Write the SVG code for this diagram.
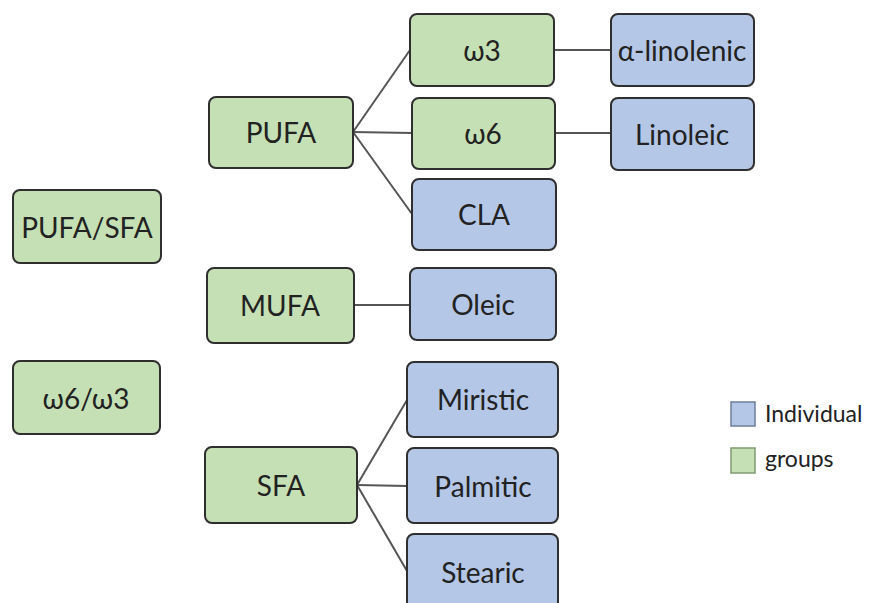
<svg xmlns="http://www.w3.org/2000/svg" width="876" height="603" viewBox="0 0 876 603">
<style>
.g{fill:#c5e0b4;stroke:#2f2f2f;stroke-width:2}
.b{fill:#b4c7e7;stroke:#2f2f2f;stroke-width:2}
.t{font-family:Lato,"Open Sans",sans-serif;font-size:28px;fill:#222;text-anchor:middle;dominant-baseline:central}
.l{font-family:Lato,"Open Sans",sans-serif;font-size:23px;fill:#222}
.c line{stroke:#555;stroke-width:2}
</style>
<rect width="876" height="603" fill="#fff"/>
<g class="c" id="connectors">
<line x1="353" y1="132" x2="410" y2="50"/>
<line x1="353" y1="132" x2="412" y2="133"/>
<line x1="353" y1="132" x2="412" y2="214"/>
<line x1="554" y1="50" x2="611" y2="50"/>
<line x1="555" y1="133" x2="611" y2="133"/>
<line x1="354" y1="305" x2="410" y2="305"/>
<line x1="357" y1="485" x2="407" y2="400"/>
<line x1="357" y1="485" x2="407" y2="486"/>
<line x1="357" y1="485" x2="407" y2="571"/>
</g>
<g id="pufa"><rect class="g" x="209" y="97" width="144" height="71" rx="7"/><text class="t" x="281" y="132">PUFA</text></g>
<g id="w3"><rect class="g" x="410" y="14" width="144" height="72" rx="7"/><text class="t" x="482" y="50">ω3</text></g>
<g id="w6"><rect class="g" x="412" y="98" width="143" height="71" rx="7"/><text class="t" x="483" y="133">ω6</text></g>
<g id="cla"><rect class="b" x="412" y="179" width="144" height="71" rx="7"/><text class="t" x="484" y="214">CLA</text></g>
<g id="alinolenic"><rect class="b" x="611" y="14" width="143" height="72" rx="7"/><text class="t" x="682" y="50">α-linolenic</text></g>
<g id="linoleic"><rect class="b" x="611" y="98" width="143" height="72" rx="7"/><text class="t" x="682" y="134">Linoleic</text></g>
<g id="pufasfa"><rect class="g" x="13" y="190" width="148" height="73" rx="7"/><text class="t" x="87" y="227">PUFA/SFA</text></g>
<g id="mufa"><rect class="g" x="207" y="268" width="147" height="75" rx="7"/><text class="t" x="280" y="305">MUFA</text></g>
<g id="oleic"><rect class="b" x="410" y="268" width="146" height="72" rx="7"/><text class="t" x="483" y="304">Oleic</text></g>
<g id="w6w3"><rect class="g" x="13" y="361" width="147" height="73" rx="7"/><text class="t" x="86" y="398">ω6/ω3</text></g>
<g id="sfa"><rect class="g" x="205" y="447" width="152" height="76" rx="7"/><text class="t" x="281" y="485">SFA</text></g>
<g id="miristic"><rect class="b" x="407" y="362" width="151" height="75" rx="7"/><text class="t" x="483" y="399">Miristic</text></g>
<g id="palmitic"><rect class="b" x="407" y="448" width="151" height="75" rx="7"/><text class="t" x="483" y="486">Palmitic</text></g>
<g id="stearic"><rect class="b" x="407" y="534" width="151" height="75" rx="7"/><text class="t" x="483" y="572">Stearic</text></g>
<g id="legend">
<rect x="731" y="402" width="24" height="24" fill="#b4c7e7" stroke="#6d7e99" stroke-width="1.5"/>
<text class="l" x="765" y="422">Individual</text>
<rect x="731" y="448" width="24" height="25" fill="#c5e0b4" stroke="#7f9a72" stroke-width="1.5"/>
<text class="l" x="765" y="467">groups</text>
</g>
</svg>
